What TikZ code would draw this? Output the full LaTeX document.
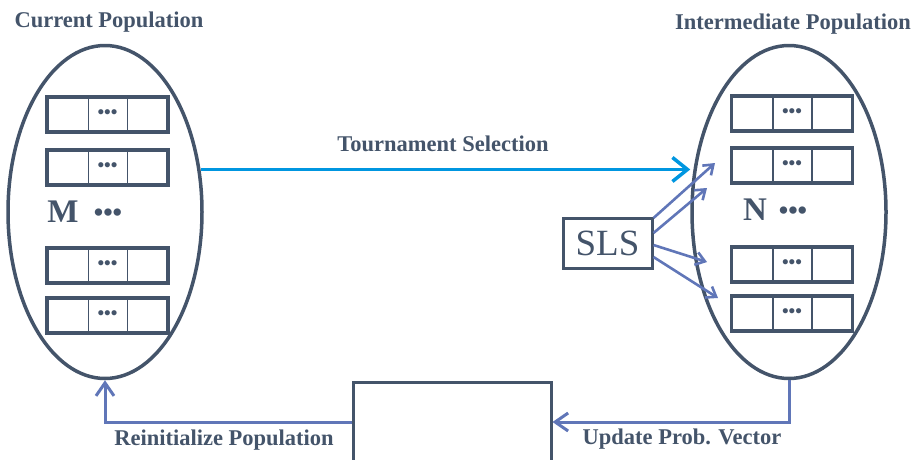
\documentclass[tikz,border=0pt]{standalone}
\usepackage{fontspec}
\setmainfont{Liberation Serif}
\usetikzlibrary{shapes.geometric,arrows.meta,positioning}
\definecolor{navy}{RGB}{68,84,106}
\definecolor{linkblue}{RGB}{96,118,184}
\definecolor{tourblue}{RGB}{0,150,224}
\tikzset{
	pop/.style={ellipse,draw=navy,line width=3.5pt,minimum width=194pt,minimum height=333pt,inner sep=0pt},
	chrom/.style={rectangle,draw=navy,line width=3.5pt,minimum width=121pt,minimum height=35pt,inner sep=0pt},
	divider/.style={draw=navy,line width=1.8pt},
	gene/.style={text=navy,font=\fontsize{19}{19}\selectfont\bfseries,inner sep=0pt},
	lbl/.style={text=navy,font=\fontsize{22.5}{24}\selectfont\bfseries,inner sep=0pt},
	flow/.style={draw=linkblue,line width=3pt,-{Straight Barb[length=13pt,width=18pt]}},
	slsflow/.style={draw=linkblue,line width=2.6pt,-{Straight Barb[length=9pt,width=13pt]}},
}
\begin{document}
\begin{tikzpicture}[x=1pt,y=-1pt]
	\useasboundingbox (0,0) rectangle (915,459);
	% populations
	\node[pop] (cur) at (105,212) {};
	\node[pop] (inter) at (789,212) {};
	\node[lbl] (curtitle) at (109,22) {Current Population};
	\node[lbl] (intertitle) at (793,24) {Intermediate Population};
	% chromosomes
	\foreach \n/\y in {a/114.5,b/167.5,c/265.5,d/315.5}{
		\node[chrom] (m\n) at (107.5,\y) {};
		\draw[divider] ([xshift=-19pt]m\n.north) -- ([xshift=-19pt]m\n.south);
		\draw[divider] ([xshift=20pt]m\n.north) -- ([xshift=20pt]m\n.south);
		\node[gene] at (m\n) {•••};
	}
	\foreach \n/\y in {a/113.5,b/165.5,c/264.5,d/313.5}{
		\node[chrom] (n\n) at (792,\y) {};
		\draw[divider] ([xshift=-19pt]n\n.north) -- ([xshift=-19pt]n\n.south);
		\draw[divider] ([xshift=20pt]n\n.north) -- ([xshift=20pt]n\n.south);
		\node[gene] at (n\n) {•••};
	}
	\node[text=navy,font=\fontsize{33}{33}\selectfont\bfseries] (msize) at (63,212) {M};
	\node[gene,font=\fontsize{27}{27}\selectfont\bfseries] (mdots) at (108,215) {•••};
	\node[text=navy,font=\fontsize{33}{33}\selectfont\bfseries] (nsize) at (755,210) {N};
	\node[gene,font=\fontsize{27}{27}\selectfont\bfseries] (ndots) at (793,213) {•••};
	% selection
	\draw[draw=tourblue,line width=3.5pt,-{Straight Barb[length=15pt,width=24pt]}] (cur.24) -- (cur.24 -| inter.west);
	\node[lbl] (tourlbl) at (443,144) {Tournament Selection};
	% local search
	\node[draw=navy,line width=3pt,minimum width=89pt,minimum height=50pt,text=navy,font=\fontsize{37}{37}\selectfont] (sls) at (607.5,243) {SLS};
	\coordinate (t1) at (715,163); \draw[slsflow] ([yshift=25pt]sls.east) -- (t1);
	\coordinate (t2) at (707,188); \draw[slsflow] ([yshift=10pt]sls.east) -- (t2);
	\coordinate (t3) at (707,262); \draw[slsflow] ([yshift=-2pt]sls.east) -- (t3);
	\coordinate (t4) at (718,298); \draw[slsflow] ([yshift=-14pt]sls.east) -- (t4);
	% model
	\node[draw=navy,line width=3pt,minimum width=198pt,minimum height=160pt] (model) at (452,462) {};
	\draw[flow] ([yshift=40pt]model.west) -| (cur.south);
	\draw[flow] (inter.south) |- ([yshift=40pt]model.east);
	\node[lbl] (reinit) at (224,440) {Reinitialize Population};
	\node[lbl] (update) at (682,439) {Update Prob. Vector};
\end{tikzpicture}
\end{document}
